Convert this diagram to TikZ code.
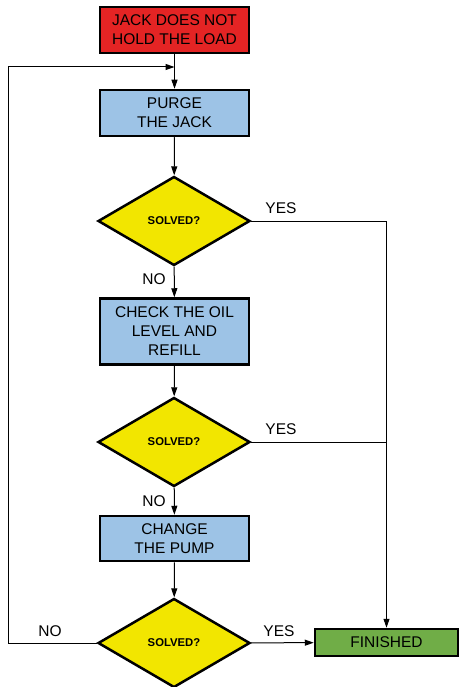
\documentclass[tikz,border=0pt]{standalone}
\usepackage{fontspec}
\setmainfont{Liberation Sans}
\usetikzlibrary{shapes.geometric,arrows.meta}
\definecolor{cred}{RGB}{228,36,36}
\definecolor{cblue}{RGB}{157,195,230}
\definecolor{cyellow}{RGB}{242,230,0}
\definecolor{cgreen}{RGB}{112,173,71}
\tikzset{
  box/.style={draw=black, line width=2.5pt, rectangle, minimum width=149pt, align=center, inner sep=2pt, font=\fontsize{15.5}{19}\selectfont},
  decision/.style={draw=black, line width=2.5pt, diamond, fill=cyellow, minimum width=152pt, minimum height=89pt, inner sep=0pt, font=\fontsize{11.3}{13}\selectfont\bfseries},
  conn/.style={draw=black, line width=1pt},
  arr/.style={conn, -{Triangle[length=9pt,width=6pt]}},
  lbl/.style={font=\fontsize{15.5}{18}\selectfont, inner sep=0pt}
}
\begin{document}
\begin{tikzpicture}[x=1pt,y=1pt]
\useasboundingbox (0,0) rectangle (460,-687);
\clip (0,0) rectangle (460,-687);
\node[box, fill=cred, minimum height=46pt] (start) at (174.5,-30) {JACK DOES NOT\\HOLD THE LOAD};
\node[box, fill=cblue, minimum height=46pt] (purge) at (174.5,-113) {PURGE\\THE JACK};
\node[decision] (d1) at (174,-221) {SOLVED?};
\node[box, fill=cblue, minimum height=66pt] (check) at (174.5,-331.5) {CHECK THE OIL\\LEVEL AND\\REFILL};
\node[decision] (d2) at (174,-442) {SOLVED?};
\node[box, fill=cblue, minimum height=45pt] (pump) at (174.5,-538.5) {CHANGE\\THE PUMP};
\node[decision] (d3) at (174,-643) {SOLVED?};
\node[box, fill=cgreen, minimum width=143pt, minimum height=27pt] (fin) at (386.5,-642.5) {FINISHED};
\coordinate (join) at (174.5,-67);
\coordinate (loopl) at (8,-643);
\coordinate (loopt) at (8,-67);
\draw[arr] (start) -- (purge);
\draw[arr] (loopl) -- (loopt) -- (join);
\draw[conn] (d3.west) -- (loopl);
\draw[arr] (purge) -- (d1);
\draw[arr] (d1) -- (check);
\draw[arr] (check) -- (d2);
\draw[arr] (d2) -- (pump);
\draw[arr] (pump) -- (d3);
\draw[arr] (d3) -- (fin);
\draw[arr] (d1.east) -| (fin.north);
\draw[conn] (d2.east) -- (d2.east -| fin.north);
\node[lbl] (yes1) at (281,-208) {YES};
\node[lbl] (no1) at (154,-279) {NO};
\node[lbl] (yes2) at (281,-429) {YES};
\node[lbl] (no2) at (154,-501) {NO};
\node[lbl] (no3) at (50,-631) {NO};
\node[lbl] (yes3) at (279,-631) {YES};
\end{tikzpicture}
\end{document}
